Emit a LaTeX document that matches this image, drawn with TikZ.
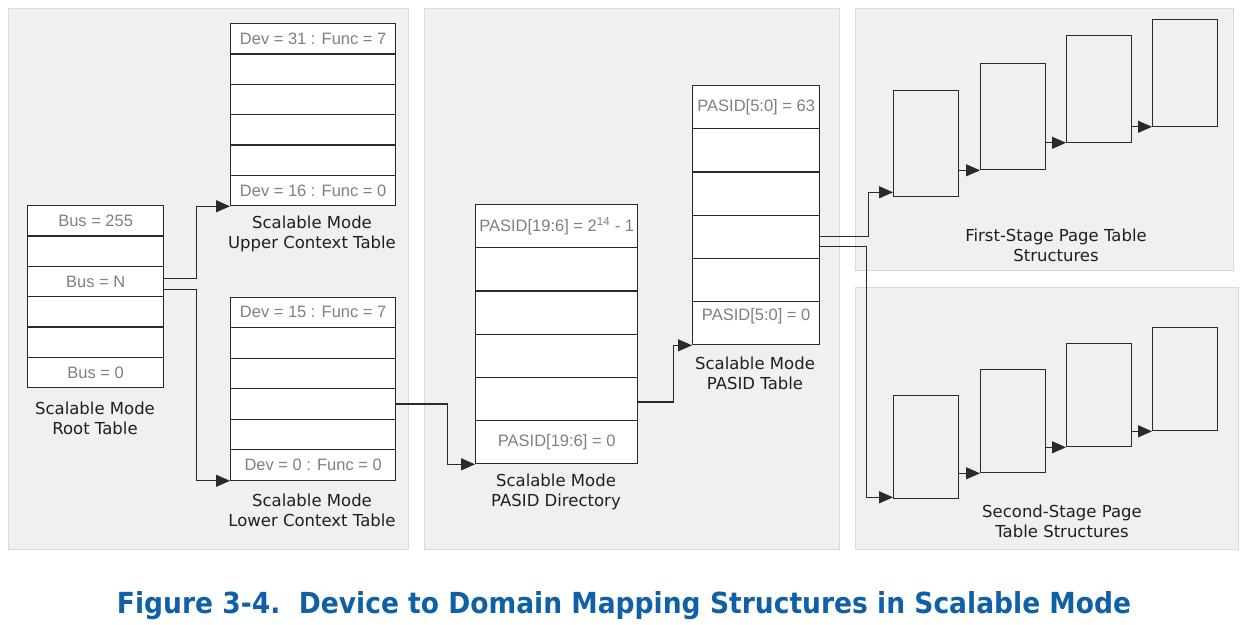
\documentclass[tikz,border=0pt]{standalone}
\usepackage{fontspec}
\setmainfont{DejaVu Sans}
\newfontfamily\cellfont{Liberation Sans}
\usetikzlibrary{arrows.meta}
\definecolor{panelfill}{HTML}{F0F0F0}
\definecolor{panelline}{HTML}{DADADA}
\definecolor{celltext}{HTML}{808080}
\definecolor{titleblue}{HTML}{1060A8}
\definecolor{lineclr}{HTML}{2A2A2A}
\newcommand\mktable[6]{\foreach \i/\t in {#6}{\node[cell,minimum width=#4pt,minimum height=#5pt] (#1\i) at (#2,{#3+(\i-1)*#5}) {\t};}}
\begin{document}
\begin{tikzpicture}[x=1pt,y=-1pt,
  panel/.style={fill=panelfill,draw=panelline,line width=1pt},
  cell/.style={draw=lineclr,fill=white,line width=1.3pt,inner sep=0pt,anchor=north west,
    font=\cellfont\fontsize{16.5}{18}\selectfont,text=celltext},
  celltxt/.style={inner sep=0pt,font=\cellfont\fontsize{16.5}{18}\selectfont,text=celltext},
  pagebox/.style={draw=lineclr,line width=1.3pt,inner sep=0pt,anchor=north west,minimum width=65pt},
  caption/.style={font=\fontsize{16.5}{20}\selectfont,align=center,text=black!88,inner sep=0pt},
  conn/.style={draw=lineclr,line width=1.2pt,-{Triangle[length=14pt,width=12pt]}},
]
\useasboundingbox (0,0) rectangle (1253,624);
% panels
\draw[panel] (8,8) rectangle (408,549);
\draw[panel] (424,8) rectangle (839,549);
\draw[panel] (855,8) rectangle (1233,270);
\draw[panel] (855,287) rectangle (1238,549);

% root table
\mktable{r}{27}{205}{136}{30.33}{1/{Bus = 255},2/{},3/{Bus = N},4/{},5/{},6/{Bus = 0}}
\node[caption] (rcap) at (95,418) {Scalable Mode\\Root Table};

% upper context table
\mktable{u}{230}{23}{165}{30.33}{1/{Dev = 31 : Func = 7},2/{},3/{},4/{},5/{},6/{Dev = 16 : Func = 0}}
\node[caption] (ucap) at (312,234) {Scalable Mode\\Upper Context Table};

% lower context table
\mktable{l}{230}{296.5}{165}{30.5}{1/{Dev = 15 : Func = 7},2/{},3/{},4/{},5/{},6/{Dev = 0 : Func = 0}}
\node[caption] (lcap) at (312,510) {Scalable Mode\\Lower Context Table};

% PASID directory
\mktable{d}{475}{204}{162}{43.17}{1/{PASID[19:6] = 2\textsuperscript{14} - 1},2/{},3/{},4/{},5/{},6/{PASID[19:6] = 0}}
\node[caption] (dcap) at (556,492) {Scalable Mode\\PASID Directory};

% PASID table
\mktable{p}{692}{85}{127}{43.17}{1/{PASID[5:0] = 63},2/{},3/{},4/{},5/{},6/{}}
\node[celltxt] (p6t) at ([yshift=7pt]p6.center) {PASID[5:0] = 0};
\node[caption] (pcap) at (755,373) {Scalable Mode\\PASID Table};

% first-stage boxes
\node[pagebox,minimum height=106.5pt] (f1) at (893,89.5) {};
\node[pagebox,minimum height=106.5pt] (f2) at (980,62.5) {};
\node[pagebox,minimum height=106.5pt] (f3) at (1066,35) {};
\node[pagebox,minimum height=106.5pt] (f4) at (1152,19) {};
\node[caption] (fcap) at (1056,245) {First-Stage Page Table\\Structures};

% second-stage boxes
\node[pagebox,minimum height=103pt] (s1) at (893,395) {};
\node[pagebox,minimum height=103pt] (s2) at (980,369) {};
\node[pagebox,minimum height=103pt] (s3) at (1066,343) {};
\node[pagebox,minimum height=103pt] (s4) at (1152,327) {};
\node[caption] (scap) at (1062,521) {Second-Stage Page\\Table Structures};

% connectors
\draw[conn] ([yshift=3pt]r3.east) -- ++(32,0) |- (u6.south west);
\draw[conn] ([yshift=-8pt]r3.east) -- ++(32,0) |- (l6.south west);
\draw[conn] (l4.east) -- ++(51,0) |- (d6.south west);
\draw[conn] ([yshift=-3pt]d5.east) -- ++(35,0) |- (p6.south west);
\draw[conn] (p4.east) -- ++(48,0) |- ([yshift=5pt]f1.south west);
\draw[conn] ([yshift=-10pt]p4.east) -- ++(46,0) |- ([yshift=2pt]s1.south west);
\draw[conn] (f2.south west -| f1.east) -- (f2.south west);
\draw[conn] (f3.south west -| f2.east) -- (f3.south west);
\draw[conn] (f4.south west -| f3.east) -- (f4.south west);
\draw[conn] (s2.south west -| s1.east) -- (s2.south west);
\draw[conn] (s3.south west -| s2.east) -- (s3.south west);
\draw[conn] (s4.south west -| s3.east) -- (s4.south west);

% title
\node[font=\bfseries\fontsize{29}{32}\selectfont,text=titleblue,inner sep=0pt] (title) at (624,606)
  {\scalebox{0.915}[1]{Figure 3-4.\ \ Device to Domain Mapping Structures in Scalable Mode}};
\end{tikzpicture}
\end{document}
